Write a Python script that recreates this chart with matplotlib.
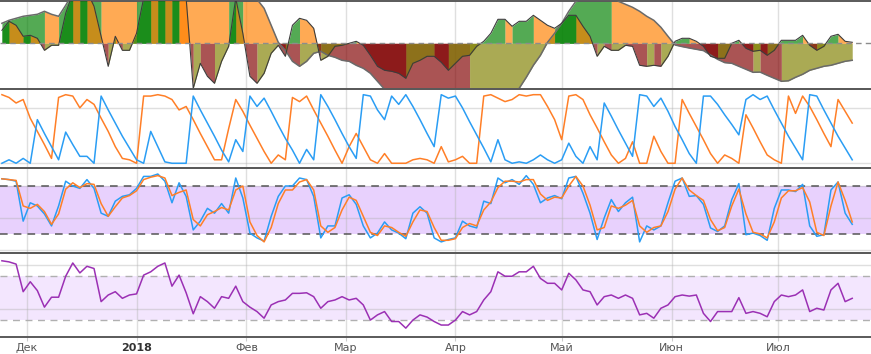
import datetime as dt
import numpy as np
import matplotlib
matplotlib.use("Agg")
import matplotlib.pyplot as plt
import matplotlib.dates as mdates

# ---------------- data ----------------
start_date = dt.date(2017, 11, 24)
n_points = 121
dates = [start_date + dt.timedelta(days=2 * k) for k in range(n_points)]

month_ticks = [dt.date(2017, 12, 1), dt.date(2018, 1, 1), dt.date(2018, 2, 1), dt.date(2018, 3, 1),
               dt.date(2018, 4, 1), dt.date(2018, 5, 1), dt.date(2018, 6, 1), dt.date(2018, 7, 1)]
month_labels = ["Дек", "2018", "Фев", "Мар", "Апр", "Май", "Июн", "Июл"]

# oscillator panel: slow envelope and fast series
osc_slow = [20, 23, 25, 27, 28, 29, 32, 29, 27, 38,
            50, 54, 57, 59, 60, 58, 56, 54, 52, 50,
            53, 56, 58, 60, 62, 63, 61, 59, 57, 55,
            53, 51, 49, 51, 53, 50, 44, 35, 18, 1,
            -7, -18, -23, -18, -10, -8, -12, -14, -17, -18,
            -22, -25, -30, -38, -46, -50, -53, -56, -57, -59,
            -60, -61, -62, -63, -64, -64.5, -65, -64, -62, -60,
            -57, -54, -50, -45, -34, -22, -12, 1, 10, 20,
            32, 42, 45, 47, 48, 49, 50, 42, 39, 36,
            32, 27, 23, 16, 7, -1.7, -3.3, -4.7, -6, -7.3,
            -11.7, -16, -19.3, -20, -23, -26, -29, -28.8, -32, -35,
            -38, -37.5, -34, -31, -27, -25, -23, -22, -20, -18, -17]
osc_fast = [13, 22, 18, 7, 8, 5, -7, -2, -2, 30,
            50, 46, 52, 37, 7, -23, 7, -7, -7, 10,
            45, 55, 52, 56, 50, 53, 45, -45, -20, -33,
            -40, -18, -3, 45, 10, -33, -40, -30, -10, -2,
            -13, 18, 25, 23, 15, -17, -13, -3, -2, 0,
            2, -2, -12, -23, -27, -28, -30, -35, -20, -17,
            -13, -13, -19, -27, -20, -13, -12, -3, 2, 10,
            24, 24, 17, 22, 22, 28, 23, 18, 15, 20,
            28, 28, 17, 7, -13, -3, -7, -7, -2, -3,
            -22, -23, -22, -23, -13, 2, 5, 5, 2, -3,
            -13, -15, -15, 0, 3, -5, -8, -7, -12, -7,
            3, 3, 3, 8, -2, -7, -3, 7, 9, 2, 1]

aroon_up = [99, 95, 87, 92, 65, 46, 27, 7, 95, 99,
            97, 80, 92, 85, 65, 46, 24, 7, 5, 0,
            97, 97, 99, 97, 92, 77, 82, 63, 43, 24,
            5, 5, 50, 92, 75, 55, 36, 17, 0, 12,
            5, 95, 89, 97, 77, 58, 39, 19, 0, 24,
            43, 24, 5, 0, 14, 0, 0, 0, 5, 7,
            5, 0, 24, 2, 5, 10, 0, 0, 97, 99,
            94, 89, 92, 99, 97, 99, 99, 82, 63, 34,
            97, 99, 92, 70, 51, 31, 12, 0, 7, 31,
            0, 0, 39, 17, 0, 0, 92, 72, 53, 34,
            14, 0, 12, 7, 0, 70, 51, 31, 12, 5,
            0, 97, 72, 97, 82, 63, 43, 24, 92, 75, 58]
aroon_down = [0, 5, 0, 7, 0, 63, 43, 24, 5, 45,
              27, 10, 10, 0, 97, 77, 58, 39, 22, 5,
              0, 46, 24, 2, 0, 0, 0, 97, 77, 58,
              39, 19, 2, 34, 17, 97, 82, 94, 75, 55,
              36, 19, 0, 20, 5, 99, 82, 63, 43, 24,
              7, 99, 97, 77, 63, 97, 85, 99, 82, 63,
              43, 24, 99, 94, 97, 80, 60, 41, 22, 2,
              34, 5, 0, 2, 0, 5, 12, 5, 0, 5,
              29, 10, 0, 24, 5, 87, 68, 48, 29, 10,
              99, 97, 82, 94, 75, 53, 34, 14, 0, 97,
              97, 85, 70, 56, 41, 92, 99, 92, 97, 77,
              58, 39, 22, 5, 99, 97, 77, 58, 39, 22, 5]

stoch_k = [89, 88, 86, 36, 59, 55, 45, 30, 55, 86,
           80, 77, 88, 77, 46, 42, 61, 67, 69, 77,
           92, 92, 95, 86, 59, 84, 67, 25, 36, 52,
           46, 58, 46, 90, 65, 21, 15, 11, 42, 67,
           80, 80, 90, 88, 67, 15, 30, 30, 65, 69,
           57, 30, 15, 21, 35, 25, 21, 14, 46, 54,
           46, 15, 10, 13, 15, 36, 30, 27.5, 61, 58,
           90, 84, 88, 82, 93, 82, 59, 65, 68, 64,
           90, 92, 71, 46, 13, 40, 63, 48, 59, 66,
           10, 30, 25, 30, 59, 86, 90, 67, 68, 57,
           27.5, 23, 30, 63, 83, 19, 21, 18, 12, 52,
           75, 75, 73, 82, 30, 17, 19, 75, 85, 46, 32]
stoch_d = [89, 88, 87, 55, 52, 57, 48, 32, 45, 76,
           84, 78, 83, 82, 58, 42, 54, 65, 68, 74,
           88, 91, 93, 90, 68, 72, 75, 38, 30, 44,
           48, 53, 50, 75, 80, 35, 18, 10, 28, 58,
           75, 75, 85, 88, 75, 30, 22, 28, 50, 66,
           62, 42, 22, 18, 30, 28, 22, 17, 35, 50,
           48, 28, 12, 12, 14, 28, 33, 30, 50, 60,
           78, 86, 86, 85, 88, 88, 70, 62, 66, 65,
           80, 92, 80, 56, 25, 28, 55, 52, 56, 62,
           30, 22, 28, 30, 48, 76, 90, 75, 68, 62,
           38, 24, 28, 55, 76, 45, 22, 20, 15, 35,
           65, 74, 74, 78, 60, 22, 18, 55, 85, 62, 35]

rsi = [84, 83, 81, 56, 65, 57, 42, 51, 51, 70,
       82, 73, 79, 77, 47, 53, 56, 50, 53, 54,
       71, 74, 79, 82, 61, 71, 55, 36, 51.5, 47,
       41, 51.5, 50, 61, 47, 42, 38, 32, 44, 47,
       48.5, 54.5, 54.5, 55, 51.5, 41, 47, 48.5, 51.5, 48.5,
       50, 44, 30.3, 35, 38, 29, 29, 23, 30.3, 35,
       33, 29, 25.8, 25.8, 30.3, 38, 35, 38, 48.5, 56,
       74, 70, 70, 74, 74, 79, 68, 63.6, 63.6, 57.6,
       72.7, 66.7, 57.6, 56, 44, 51.5, 53, 50, 53, 50,
       35, 36.4, 32, 41, 44, 51.5, 53, 52, 53, 36.4,
       29, 38, 38, 38, 50.6, 36.4, 38, 36.4, 33.3, 47,
       53, 51.5, 53, 57.6, 38, 41, 39.4, 57.6, 63.6, 47, 50]

# ---------------- styling ----------------
C_UP = "#ff7f27"
C_DN = "#2a9df4"
C_RSI = "#9b30b4"
OSC_COLORS = {("pos", 1): "#008000", ("pos", -1): "#ff8000",
              ("neg", 1): "#808000", ("neg", -1): "#800000"}

W, H = 871, 354
fig = plt.figure(figsize=(W / 100, H / 100), dpi=100)
fig.patch.set_facecolor("white")


def add_panel(top_px, bot_px):
    return fig.add_axes([0, 1 - bot_px / H, 1, (bot_px - top_px) / H])


ax1 = add_panel(1, 89)
ax2 = add_panel(89, 167.7)
ax3 = add_panel(167.7, 252.6)
ax4 = add_panel(252.6, 337.3)
axes = [ax1, ax2, ax3, ax4]

x = mdates.date2num(dates)
dec1 = mdates.date2num(dt.date(2017, 12, 1))
xlim = (dec1 - 7.54, dec1 + 238.3)


def draw_osc(ax, xv, yv, alpha, z):
    xv = np.asarray(xv, float)
    yv = np.asarray(yv, float)
    xs, ys, dirs = [xv[0]], [yv[0]], []
    for k in range(1, len(xv)):
        d = 1 if yv[k] >= yv[k - 1] else -1
        if yv[k - 1] * yv[k] < 0:
            t = yv[k - 1] / (yv[k - 1] - yv[k])
            xs.append(xv[k - 1] + t * (xv[k] - xv[k - 1]))
            ys.append(0.0)
            dirs.append(d)
        xs.append(xv[k])
        ys.append(yv[k])
        dirs.append(d)
    xs = np.array(xs)
    ys = np.array(ys)
    cols = []
    for j in range(len(dirs)):
        mid = (ys[j] + ys[j + 1]) / 2
        cols.append(OSC_COLORS[("pos" if mid >= 0 else "neg", dirs[j])])
    j = 0
    while j < len(cols):
        k = j
        while k + 1 < len(cols) and cols[k + 1] == cols[j]:
            k += 1
        ax.fill_between(xs[j:k + 2], 0, ys[j:k + 2], color=cols[j], alpha=alpha,
                        lw=0, zorder=z)
        j = k + 1


# panel 1: oscillator areas
draw_osc(ax1, x, osc_slow, 0.67, 2)
draw_osc(ax1, x, osc_fast, 0.67, 3)
ax1.plot(x, osc_slow, color="#6a6a6a", lw=1.1, zorder=4)
ax1.plot(x, osc_fast, color="#3c3c3c", lw=0.8, zorder=5)
ax1.axhline(0, color="#8c8c8c", lw=1.0, ls=(0, (4, 3)), zorder=6)
ax1.set_ylim(-45.7, 42.3)
ax1.set_yticks([])

# panel 2: aroon
ax2.plot(x, aroon_up, color=C_UP, lw=1.1, zorder=3)
ax2.plot(x, aroon_down, color=C_DN, lw=1.1, zorder=3)
ax2.set_ylim(-6.4, 107.2)
ax2.set_yticks([0, 80])

# panel 3: stochastic
ax3.axhspan(20, 80, color="#e8d1fd", lw=0, zorder=1)
for lvl in (20, 80):
    ax3.axhline(lvl, color="#555555", lw=1.1, ls=(0, (5, 4)), zorder=2.5)
ax3.plot(x, stoch_k, color=C_DN, lw=1.1, zorder=3)
ax3.plot(x, stoch_d, color=C_UP, lw=1.1, zorder=3.1)
ax3.set_ylim(-3.4, 102.9)
ax3.set_yticks([0, 40, 80])

# panel 4: RSI
ax4.axhspan(30, 70, color="#f3e6fe", lw=0, zorder=1)
for lvl in (30, 70):
    ax4.axhline(lvl, color="#b0b0b0", lw=1.0, ls=(0, (5, 4)), zorder=2.5)
ax4.plot(x, rsi, color=C_RSI, lw=1.1, zorder=3)
ax4.set_ylim(14.7, 91.4)
ax4.set_yticks([40, 80])

for ax in axes:
    ax.set_xlim(*xlim)
    ax.set_facecolor("none")
    ax.set_xticks(mdates.date2num(month_ticks))
    ax.set_axisbelow("line")
    ax.grid(axis="x", color="#b8b8b8", alpha=0.45, lw=1.0)
    if ax is not ax1:
        ax.grid(axis="y", color="#b0b0b0", alpha=0.4, lw=1.0)
    ax.tick_params(axis="y", length=0, labelleft=False)
    for s in ("left", "right"):
        ax.spines[s].set_visible(False)
    for s in ("top", "bottom"):
        ax.spines[s].set_color("#5a5a5a")
        ax.spines[s].set_linewidth(1.4)
    if ax is not ax4:
        ax.tick_params(axis="x", length=0, labelbottom=False)

ax4.set_xticklabels(month_labels)
ax4.tick_params(axis="x", length=3, color="#cccccc", pad=0.8, labelsize=8,
                labelcolor="#555555")
lbls = ax4.get_xticklabels()
lbls[1].set_fontweight("bold")
lbls[1].set_color("#333333")

fig.savefig("out.png", dpi=100, facecolor="white")
